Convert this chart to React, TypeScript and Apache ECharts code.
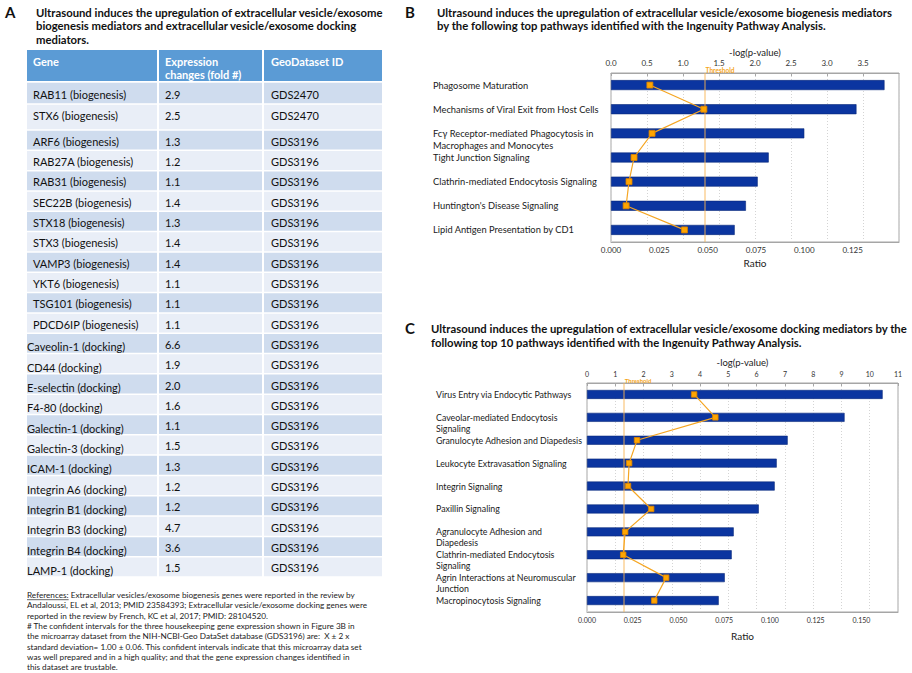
import React, { useEffect, useRef } from "react";
import * as echarts from "echarts";

const FONT = "Lato, 'Open Sans', 'DejaVu Sans', sans-serif";

// ---------- Panel A data ----------
const geneNames = [
  "RAB11 (biogenesis)", "STX6 (biogenesis)", "ARF6 (biogenesis)", "RAB27A (biogenesis)",
  "RAB31 (biogenesis)", "SEC22B (biogenesis)", "STX18 (biogenesis)", "STX3 (biogenesis)",
  "VAMP3 (biogenesis)", "YKT6 (biogenesis)", "TSG101 (biogenesis)", "PDCD6IP (biogenesis)",
  "Caveolin-1 (docking)", "CD44 (docking)", "E-selectin (docking)", "F4-80 (docking)",
  "Galectin-1 (docking)", "Galectin-3 (docking)", "ICAM-1 (docking)", "Integrin A6 (docking)",
  "Integrin B1 (docking)", "Integrin B3 (docking)", "Integrin B4 (docking)", "LAMP-1 (docking)",
];
const foldChanges = [2.9, 2.5, 1.3, 1.2, 1.1, 1.4, 1.3, 1.4, 1.4, 1.1, 1.1, 1.1, 6.6, 1.9, 2.0, 1.6, 1.1, 1.5, 1.3, 1.2, 1.2, 4.7, 3.6, 1.5];
const datasetIds = [
  "GDS2470", "GDS2470", "GDS3196", "GDS3196", "GDS3196", "GDS3196", "GDS3196", "GDS3196",
  "GDS3196", "GDS3196", "GDS3196", "GDS3196", "GDS3196", "GDS3196", "GDS3196", "GDS3196",
  "GDS3196", "GDS3196", "GDS3196", "GDS3196", "GDS3196", "GDS3196", "GDS3196", "GDS3196",
];
const tableHeaders = ["Gene", "Expression\nchanges (fold #)", "GeoDataset ID"];

const titleA = [
  "Ultrasound induces the upregulation of extracellular vesicle/exosome",
  "biogenesis mediators and extracellular vesicle/exosome docking",
  "mediators.",
];
const referenceLines = [
  "References: Extracellular vesicles/exosome biogenesis genes were reported in the review by",
  "Andaloussi, EL et al, 2013; PMID 23584393; Extracellular vesicle/exosome docking genes were",
  "reported in the review by French, KC et al, 2017; PMID: 28104520.",
  "# The confident intervals for the three housekeeping gene expression shown in Figure 3B in",
  "the microarray dataset from the NIH-NCBI-Geo DataSet database (GDS3196) are:  X ± 2 x",
  "standard deviation= 1.00 ± 0.06. This confident intervals indicate that this microarray data set",
  "was well prepared and in a high quality; and that the gene expression changes identified in",
  "this dataset are trustable.",
];

// ---------- Panel B data ----------
const titleB = [
  "Ultrasound induces the upregulation of extracellular vesicle/exosome biogenesis mediators",
  "by the following top pathways identified with the Ingenuity Pathway Analysis.",
];
const pathwaysB = [
  "Phagosome Maturation",
  "Mechanisms of Viral Exit from Host Cells",
  "Fcγ Receptor-mediated Phagocytosis in\nMacrophages and Monocytes",
  "Tight Junction Signaling",
  "Clathrin-mediated Endocytosis Signaling",
  "Huntington's Disease Signaling",
  "Lipid Antigen Presentation by CD1",
];
const ratioB = [0.1415, 0.127, 0.1, 0.0816, 0.0759, 0.0698, 0.064];
const logpB = [0.54, 1.29, 0.57, 0.32, 0.25, 0.21, 1.02];

// ---------- Panel C data ----------
const titleC = [
  "Ultrasound induces the upregulation of extracellular vesicle/exosome docking mediators by the",
  "following top 10 pathways identified with the Ingenuity Pathway Analysis.",
];
const pathwaysC = [
  "Virus Entry via Endocytic Pathways",
  "Caveolar-mediated Endocytosis\nSignaling",
  "Granulocyte Adhesion and Diapedesis",
  "Leukocyte Extravasation Signaling",
  "Integrin Signaling",
  "Paxillin Signaling",
  "Agranulocyte Adhesion and\nDiapedesis",
  "Clathrin-mediated Endocytosis\nSignaling",
  "Agrin Interactions at Neuromuscular\nJunction",
  "Macropinocytosis Signaling",
];
const ratioC = [0.1616, 0.1408, 0.1097, 0.1037, 0.1026, 0.0939, 0.0802, 0.0791, 0.0753, 0.072];
const logpC = [3.79, 4.54, 1.77, 1.49, 1.45, 2.27, 1.35, 1.28, 2.8, 2.38];

const thresholdLogP = 1.3;

// ---------- styling constants ----------
const BAR_COLOR = "#0B35A0";
const ORANGE = "#F5A623";
const HEADER_BLUE = "#5B9BD5";
const ROW_DARK = "#CFDCEE";
const ROW_LIGHT = "#E9EEF7";

function measure(text: string, font: string): number {
  const c = document.createElement("canvas").getContext("2d");
  if (!c) return text.length * 4;
  c.font = font;
  return c.measureText(text).width;
}

function textEl(text: string, x: number, y: number, size: number, opts: any = {}) {
  return {
    type: "text",
    x,
    y,
    silent: true,
    style: {
      text,
      fill: opts.fill || "#111",
      fontFamily: FONT,
      fontSize: size,
      fontWeight: opts.weight || "normal",
      align: opts.align || "left",
      verticalAlign: opts.valign || "middle",
      lineHeight: opts.lineHeight || size * 1.2,
    },
  };
}

function buildTable(): any[] {
  const els: any[] = [];
  const L = 27, C2 = 158, C3 = 263, R = 382;
  const cols = [[L, C2 - 1], [C2 + 1, C3 - 1], [C3 + 1, R]];
  const HT = 50, HB = 82;
  cols.forEach(([a, b]) =>
    els.push({ type: "rect", silent: true, shape: { x: a, y: HT, width: b - a, height: HB - HT - 1 }, style: { fill: HEADER_BLUE } })
  );
  els.push(textEl(tableHeaders[0], 33, 61, 11, { fill: "#fff", weight: "bold" }));
  const hdr = textEl(tableHeaders[1], 165, 55, 11, { fill: "#fff", weight: "bold", valign: "top", lineHeight: 13 });
  els.push(hdr);
  els.push(textEl(tableHeaders[2], 271, 61, 11, { fill: "#fff", weight: "bold" }));

  const rowH = 20.32;
  geneNames.forEach((g, i) => {
    let top: number, bot: number;
    if (i === 0) { top = 82; bot = 104; }
    else if (i === 1) { top = 104; bot = 130; }
    else { top = 130 + (i - 2) * rowH; bot = top + rowH; }
    const fill = i % 2 === 0 ? ROW_DARK : ROW_LIGHT;
    cols.forEach(([a, b]) =>
      els.push({ type: "rect", silent: true, shape: { x: a, y: top + 0.75, width: b - a, height: bot - top - 1.5 }, style: { fill } })
    );
    const cy = i === 1 ? top + 11 : (top + bot) / 2 + 1;
    const docking = g.indexOf("(docking)") >= 0;
    els.push(textEl(g, docking ? 27 : 33, cy + (docking ? 2.5 : 0), 11));
    els.push(textEl(foldChanges[i].toFixed(1), 165, cy, 11));
    els.push(textEl(datasetIds[i], 271, cy, 11));
  });
  return els;
}

function buildStatic(): any[] {
  const els: any[] = [];
  els.push(textEl("A", 5, 12, 15, { weight: "bold" }));
  els.push(textEl("B", 405, 12, 15, { weight: "bold" }));
  els.push(textEl("C", 405, 328, 15, { weight: "bold" }));
  titleA.forEach((t, i) => els.push(textEl(t, 36, [12, 25.5, 39][i], 11.3, { weight: "bold" })));
  titleB.forEach((t, i) => els.push(textEl(t, 437, [12, 25.5][i], 11.3, { weight: "bold" })));
  titleC.forEach((t, i) => els.push(textEl(t, 431, [328, 342][i], 11.3, { weight: "bold" })));
  buildTable().forEach((e) => els.push(e));
  const refYs = [595, 605.3, 615.6, 625.9, 636.2, 646.5, 656.8, 667.1];
  const refSize = 8.2;
  referenceLines.forEach((t, i) => els.push(textEl(t, 27, refYs[i], refSize, { fill: "#222" })));
  const w = measure("References:", `${refSize}px ${FONT}`);
  els.push({ type: "line", silent: true, shape: { x1: 27, y1: 599.7, x2: 27 + w, y2: 599.7 }, style: { stroke: "#222", lineWidth: 0.7 } });
  return els;
}

function twoLine(v: string) {
  return v.indexOf("\n") >= 0 ? " \n" + v : v;
}

function App() {
  const ref = useRef<HTMLDivElement>(null);
  useEffect(() => {
    if (!ref.current) return;
    const chart = echarts.init(ref.current, undefined, { renderer: "svg" });
    const gridBase = { show: true, borderColor: "#A6A6A6", borderWidth: 1, backgroundColor: "transparent", containLabel: false, outerBoundsMode: "none" };
    const labelColor = "#333";
    const topAxis = (grid: number, max: number, interval: number, digits: number, fs: number, showMax: boolean) => ({
      gridIndex: grid, type: "value", position: "top", min: 0, max, interval,
      name: "-log(p-value)", nameLocation: "middle", nameGap: 16,
      nameTextStyle: { fontFamily: FONT, fontSize: 9.5, color: "#222" },
      axisLine: { show: true, lineStyle: { color: "#A6A6A6" } },
      axisTick: { show: true, inside: true, length: 3, lineStyle: { color: "#A6A6A6" } },
      axisLabel: { fontFamily: FONT, fontSize: fs, color: labelColor, margin: 6, showMaxLabel: showMax, formatter: (v: number) => v.toFixed(digits) },
      splitLine: { show: true, lineStyle: { color: "#D4D4D4", type: [1, 2], width: 1 } },
    });
    const bottomAxis = (grid: number, max: number, fs: number, gap: number) => ({
      gridIndex: grid, type: "value", position: "bottom", min: 0, max, interval: 0.025,
      name: "Ratio", nameLocation: "middle", nameGap: gap,
      nameTextStyle: { fontFamily: FONT, fontSize: 10, color: "#222" },
      axisLine: { show: true, lineStyle: { color: "#A6A6A6" } },
      axisTick: { show: false },
      axisLabel: { fontFamily: FONT, fontSize: fs, color: labelColor, margin: 4, showMaxLabel: false, formatter: (v: number) => v.toFixed(3) },
      splitLine: { show: false },
    });
    const catAxis = (grid: number, data: string[], margin: number, fs: number, lh: number) => ({
      gridIndex: grid, type: "category", inverse: true, data,
      axisLine: { show: false }, axisTick: { show: false }, splitLine: { show: false },
      axisLabel: { align: "left", margin, fontFamily: FONT, fontSize: fs, lineHeight: lh, color: "#1a1a1a", formatter: twoLine, interval: 0 },
    });
    const markLine = {
      symbol: "none", silent: true,
      lineStyle: { color: "rgba(247,178,80,0.6)", width: 1.5, type: "solid" },
      label: { show: false },
      data: [{ xAxis: thresholdLogP }],
    };
    const lineSeries = (xi: number, yi: number, data: number[], size: number) => ({
      type: "line", xAxisIndex: xi, yAxisIndex: yi, data, symbol: "rect", symbolSize: size,
      lineStyle: { color: ORANGE, width: 1.2 },
      itemStyle: { color: "#FFA500", borderColor: "#D98200", borderWidth: 0.8 },
      z: 5, markLine,
    });
    const option: any = {
      animation: false,
      textStyle: { fontFamily: FONT },
      grid: [
        { ...gridBase, left: 611, right: 13, top: 73, bottom: 431 },
        { ...gridBase, left: 587, right: 14, top: 383, bottom: 61 },
      ],
      xAxis: [
        bottomAxis(0, 0.149, 8, 16),
        topAxis(0, 4, 0.5, 1, 8, false),
        bottomAxis(1, 0.17, 7, 19),
        topAxis(1, 11, 1, 0, 7, true),
      ],
      yAxis: [catAxis(0, pathwaysB, 178, 9.3, 12), catAxis(1, pathwaysC, 151, 8.8, 11)],
      series: [
        { type: "bar", xAxisIndex: 0, yAxisIndex: 0, data: ratioB, barWidth: 10, itemStyle: { color: BAR_COLOR, borderColor: "#08287A", borderWidth: 0.6 }, z: 2 },
        lineSeries(1, 0, logpB, 6),
        { type: "bar", xAxisIndex: 2, yAxisIndex: 1, data: ratioC, barWidth: 9, itemStyle: { color: BAR_COLOR, borderColor: "#08287A", borderWidth: 0.6 }, z: 2 },
        lineSeries(3, 1, logpC, 5.5),
      ],
      graphic: buildStatic(),
    };
    chart.setOption(option);
    const xb = chart.convertToPixel({ xAxisIndex: 1 }, thresholdLogP) as number;
    const xc = chart.convertToPixel({ xAxisIndex: 3 }, thresholdLogP) as number;
    const extra = [
      textEl("Threshold", xb + 1, 70, 6.5, { fill: ORANGE, weight: "bold" }),
      textEl("Threshold", xc + 1, 380, 6, { fill: ORANGE, weight: "bold" }),
    ];
    chart.setOption({ graphic: buildStatic().concat(extra) });
    return () => chart.dispose();
  }, []);
  return <div ref={ref} style={{ position: "fixed", left: 0, top: 0, width: 912, height: 673, background: "#fff" }} />;
}

export default App;
